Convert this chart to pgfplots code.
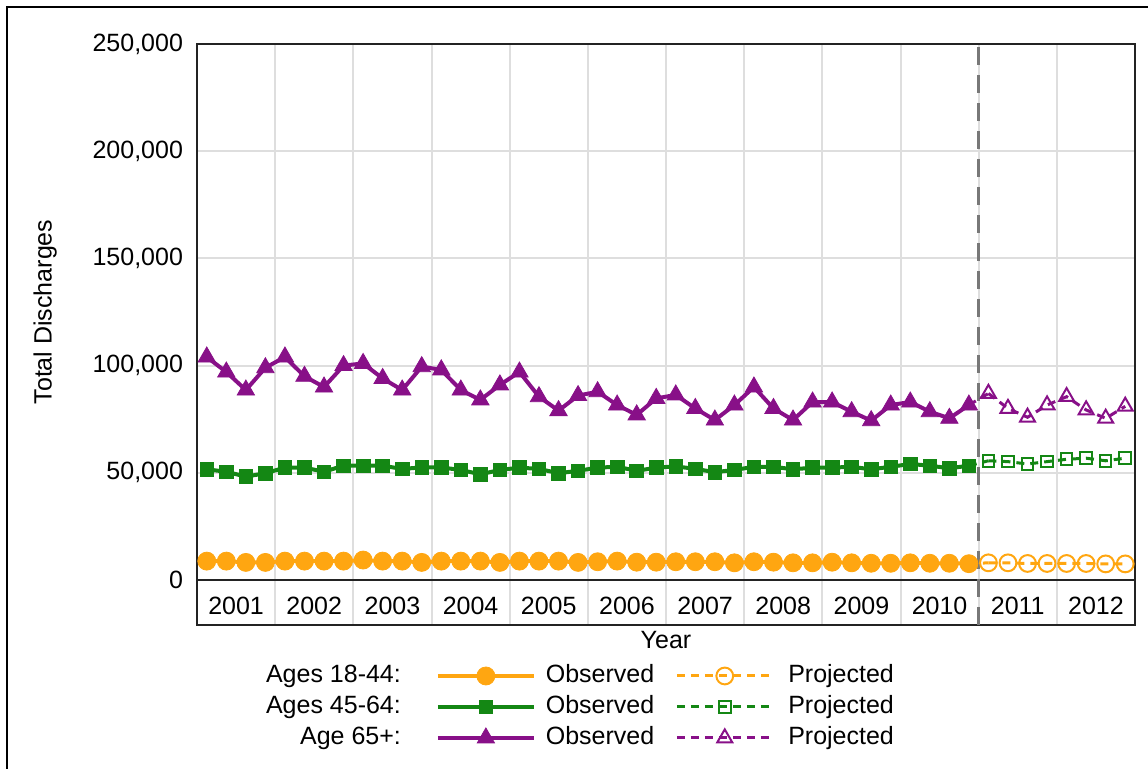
\documentclass[border=0pt]{standalone}
\usepackage{fontspec}
\setmainfont{Liberation Sans}
\usepackage{pgfplots}
\pgfplotsset{compat=1.18}
\definecolor{cOr}{RGB}{255,166,17}
\definecolor{cGr}{RGB}{20,135,20}
\definecolor{cPu}{RGB}{136,16,136}
\definecolor{cGrid}{RGB}{222,222,222}
\definecolor{cDash}{RGB}{120,120,120}
\definecolor{cAx}{RGB}{35,35,35}
\begin{document}
\begin{tikzpicture}[font=\fontsize{12.5bp}{14bp}\selectfont]
\path[use as bounding box] (0,0) rectangle (574bp,384.5bp);
\draw[line width=1bp, black] (3.5bp,0) -- (3.5bp,381bp) -- (574bp,381bp);
\begin{axis}[
  at={(98.5bp,72bp)}, anchor=south west,
  scale only axis, width=469bp, height=290.5bp,
  xmin=0, xmax=48, ymin=-21000, ymax=250000,
  xtick={4,8,...,44}, xticklabels={},
  ytick={0,50000,100000,150000,200000,250000},
  scaled y ticks=false,
  yticklabel style={xshift=-3.5bp},
  major tick length=0,
  xmajorgrids, ymajorgrids,
  major grid style={cGrid, line width=1bp},
  axis line style={line width=1.2bp, cAx},
  xlabel={Year},
  xlabel style={at={(axis description cs:0.5,-0.0258)}, anchor=center},
  ylabel={Total Discharges},
  ylabel style={at={(axis description cs:-0.162,0.5387)}, anchor=center, rotate=0},
  legend columns=3,
  legend cell align=right,
  legend image code/.code={\draw[mark repeat=2,mark phase=2] plot coordinates {(0bp,0bp) (24bp,0bp) (48bp,0bp)};},
  legend style={at={(axis description cs:0.4083,-0.1411)}, anchor=center, draw=none, fill=none,
    row sep=1bp,
    nodes={inner sep=1.5bp, text height=9bp, text depth=2.5bp},
    /tikz/column 2/.style={column sep=16bp},
    /tikz/column 3/.style={column sep=3.5bp},
    /tikz/column 4/.style={column sep=9bp},
    /tikz/column 5/.style={column sep=5.5bp}},
  /pgf/number format/fixed,
  /pgf/number format/precision=0,
  /pgf/number format/1000 sep={,},
  /pgf/number format/assume math mode=true,
]
\draw[cAx, line width=1.2bp] (axis cs:0,0) -- (axis cs:48,0);
\draw[cDash, line width=1.5bp, dash pattern=on 9bp off 5bp] (axis cs:40,-21000) -- (axis cs:40,250000);
\node at (axis cs:2,-12300) {2001};
\node at (axis cs:6,-12300) {2002};
\node at (axis cs:10,-12300) {2003};
\node at (axis cs:14,-12300) {2004};
\node at (axis cs:18,-12300) {2005};
\node at (axis cs:22,-12300) {2006};
\node at (axis cs:26,-12300) {2007};
\node at (axis cs:30,-12300) {2008};
\node at (axis cs:34,-12300) {2009};
\node at (axis cs:38,-12300) {2010};
\node at (axis cs:42,-12300) {2011};
\node at (axis cs:46,-12300) {2012};

% connectors from last observed to first projected quarter
\addplot[forget plot, cOr, line width=1.5bp, dash pattern=on 4bp off 3bp] coordinates {(39.5,7600)(40.5,8000)};
\addplot[forget plot, cGr, line width=1.5bp, dash pattern=on 4bp off 3bp] coordinates {(39.5,53300)(40.5,55600)};
\addplot[forget plot, cPu, line width=1.5bp, dash pattern=on 4bp off 3bp] coordinates {(39.5,81600)(40.5,87000)};

% Ages 18-44
\addlegendimage{empty legend}\addlegendentry{Ages 18-44:}
\addplot[cOr, line width=2bp, mark=*, mark size=4.5bp, mark options={solid, line width=0.4bp, fill=cOr}] coordinates {
(0.5,8800)(1.5,8800)(2.5,8200)(3.5,8200)(4.5,8800)(5.5,8800)(6.5,8800)(7.5,8800)
(8.5,9300)(9.5,8800)(10.5,8800)(11.5,8200)(12.5,8800)(13.5,8800)(14.5,8800)(15.5,8200)
(16.5,8800)(17.5,8800)(18.5,8800)(19.5,8200)(20.5,8500)(21.5,8800)(22.5,8300)(23.5,8300)
(24.5,8500)(25.5,8500)(26.5,8500)(27.5,8000)(28.5,8500)(29.5,8300)(30.5,8000)(31.5,8000)
(32.5,8300)(33.5,8000)(34.5,7800)(35.5,7800)(36.5,8000)(37.5,7800)(38.5,7800)(39.5,7600)};
\addlegendentry{Observed}
\addplot[cOr, line width=1.5bp, dash pattern=on 4bp off 3bp, mark=o, mark size=4.2bp, mark options={solid, line width=1bp, fill=none}] coordinates {
(40.5,8000)(41.5,8000)(42.5,7700)(43.5,7700)(44.5,7700)(45.5,7700)(46.5,7500)(47.5,7500)};
\addlegendentry{Projected}

% Ages 45-64
\addlegendimage{empty legend}\addlegendentry{Ages 45-64:}
\addplot[cGr, line width=2bp, mark=square*, mark size=3.4bp, mark options={solid, line width=0.4bp, fill=cGr}] coordinates {
(0.5,51600)(1.5,50500)(2.5,48200)(3.5,49800)(4.5,52400)(5.5,52400)(6.5,50500)(7.5,53300)
(8.5,53300)(9.5,53300)(10.5,51800)(11.5,52500)(12.5,52500)(13.5,51300)(14.5,49300)(15.5,51300)
(16.5,52400)(17.5,51800)(18.5,49800)(19.5,50900)(20.5,52400)(21.5,52800)(22.5,50900)(23.5,52400)
(24.5,53000)(25.5,51800)(26.5,50300)(27.5,51300)(28.5,52800)(29.5,52800)(30.5,51600)(31.5,52400)
(32.5,52400)(33.5,52800)(34.5,51600)(35.5,52800)(36.5,54100)(37.5,53300)(38.5,52100)(39.5,53300)};
\addlegendentry{Observed}
\addplot[cGr, line width=1.5bp, dash pattern=on 4bp off 3bp, mark=square, mark size=2.9bp, mark options={solid, line width=1bp, fill=none}] coordinates {
(40.5,55600)(41.5,55200)(42.5,54100)(43.5,55200)(44.5,56300)(45.5,56800)(46.5,55600)(47.5,56800)};
\addlegendentry{Projected}

% Age 65+
\addlegendimage{empty legend}\addlegendentry{Age 65+:}
\addplot[cPu, line width=2bp, mark=triangle*, mark size=5bp, mark options={solid, line width=0.4bp, fill=cPu}] coordinates {
(0.5,104000)(1.5,97000)(2.5,88600)(3.5,99000)(4.5,104000)(5.5,95000)(6.5,90000)(7.5,100000)
(8.5,101000)(9.5,94000)(10.5,88600)(11.5,99500)(12.5,98000)(13.5,88600)(14.5,84000)(15.5,91000)
(16.5,97000)(17.5,85500)(18.5,79000)(19.5,86000)(20.5,87800)(21.5,81600)(22.5,77000)(23.5,84700)
(24.5,86300)(25.5,80000)(26.5,74600)(27.5,81600)(28.5,90000)(29.5,80000)(30.5,74600)(31.5,83000)
(32.5,83000)(33.5,78500)(34.5,74300)(35.5,81600)(36.5,83000)(37.5,78500)(38.5,75400)(39.5,81600)};
\addlegendentry{Observed}
\addplot[cPu, line width=1.5bp, dash pattern=on 4bp off 3bp, mark=triangle, mark size=4.3bp, mark options={solid, line width=1bp, fill=none}] coordinates {
(40.5,87000)(41.5,80000)(42.5,75900)(43.5,81600)(44.5,85500)(45.5,79300)(46.5,75400)(47.5,81000)};
\addlegendentry{Projected}
\end{axis}
\end{tikzpicture}
\end{document}
